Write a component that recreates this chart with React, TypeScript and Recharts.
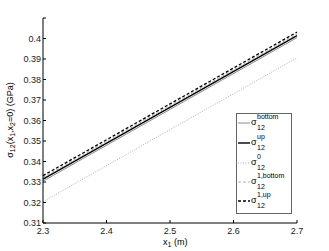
import { LineChart, Line, XAxis, YAxis } from 'recharts';

const xValues = [2.3, 2.7];
const sigmaBottom = [0.3304, 0.4004];
const sigmaUp = [0.3314, 0.4014];
const sigma0 = [0.3204, 0.3906];
const sigma1Bottom = [0.3322, 0.4022];
const sigma1Up = [0.3331, 0.4031];

const xTicks = [2.3, 2.4, 2.5, 2.6, 2.7];
const yTicks = [0.31, 0.32, 0.33, 0.34, 0.35, 0.36, 0.37, 0.38, 0.39, 0.4, 0.41];

const data = xValues.map((x, i) => ({
  x,
  bottom: sigmaBottom[i],
  up: sigmaUp[i],
  zero: sigma0[i],
  oneBottom: sigma1Bottom[i],
  oneUp: sigma1Up[i],
}));

const FONT = '"Liberation Sans", Arial, sans-serif';

const series = [
  { key: 'bottom', sup: 'bottom', stroke: '#8c8c8c', width: 1, dash: undefined },
  { key: 'up', sup: 'up', stroke: '#000', width: 1.4, dash: undefined },
  { key: 'zero', sup: '0', stroke: '#999', width: 0.8, dash: '1 1.5' },
  { key: 'oneBottom', sup: '1,bottom', stroke: '#aaa', width: 1, dash: '3 2' },
  { key: 'oneUp', sup: '1,up', stroke: '#000', width: 1.3, dash: '3 2' },
];

const rowY = [123, 143, 163, 182, 201];

const tickStyle = { fontSize: 9, fill: '#222', fontFamily: FONT };

const App = () => {
  return (
    <div style={{ position: 'absolute', left: 0, top: 0, width: 329, height: 251, background: '#fff' }}>
      <LineChart
        width={329}
        height={251}
        data={data}
        margin={{ top: 18, right: 32, bottom: 0, left: 0 }}
      >
        <XAxis
          xAxisId="b"
          dataKey="x"
          type="number"
          domain={[2.3, 2.7]}
          ticks={xTicks}
          height={28}
          stroke="#000"
          tickSize={-3}
          tickMargin={8}
          tick={tickStyle}
          tickFormatter={(v: number) => v.toFixed(1)}
        />
        <XAxis
          xAxisId="t"
          orientation="top"
          dataKey="x"
          type="number"
          domain={[2.3, 2.7]}
          ticks={xTicks}
          height={0}
          stroke="#000"
          tickSize={-3}
          tick={false}
        />
        <YAxis
          yAxisId="l"
          type="number"
          domain={[0.31, 0.41]}
          ticks={yTicks}
          width={43}
          stroke="#000"
          tickSize={-3}
          tickMargin={5}
          tick={tickStyle}
          tickFormatter={(v: number) => (v > 0.405 ? '' : String(Number(v.toFixed(2))))}
        />
        <YAxis
          yAxisId="r"
          orientation="right"
          type="number"
          domain={[0.31, 0.41]}
          ticks={yTicks}
          width={0}
          stroke="#000"
          tickSize={-3}
          tick={false}
        />
        {series.map((s) => (
          <Line
            key={s.key}
            xAxisId="b"
            yAxisId="l"
            dataKey={s.key}
            stroke={s.stroke}
            strokeWidth={s.width}
            strokeDasharray={s.dash}
            dot={false}
            isAnimationActive={false}
          />
        ))}
      </LineChart>
      <svg
        width={329}
        height={251}
        style={{ position: 'absolute', left: 0, top: 0, pointerEvents: 'none' }}
        fontFamily={FONT}
      >
        {/* axis labels */}
        <text x={163} y={245} fontSize={9} fill="#000">
          x
          <tspan fontSize={7} dy={2}>1</tspan>
          <tspan fontSize={9} dy={-2}> (m)</tspan>
        </text>
        <text transform="translate(13,120) rotate(-90)" textAnchor="middle" fontSize={9} fill="#000">
          σ<tspan fontSize={7} dy={2}>12</tspan>
          <tspan fontSize={9} dy={-2}>(x</tspan>
          <tspan fontSize={7} dy={2}>1</tspan>
          <tspan fontSize={9} dy={-2}>,x</tspan>
          <tspan fontSize={7} dy={2}>2</tspan>
          <tspan fontSize={9} dy={-2}>=0) (GPa)</tspan>
        </text>
        {/* legend */}
        <rect x={236.5} y={113.5} width={55} height={100} fill="#fff" stroke="#666" strokeWidth={1} />
        {series.map((s, i) => (
          <g key={s.key}>
            <line
              x1={238}
              x2={250}
              y1={rowY[i]}
              y2={rowY[i]}
              stroke={s.stroke}
              strokeWidth={s.width}
              strokeDasharray={s.dash}
            />
            <text x={251} y={rowY[i] + 2} fontSize={9} fill="#000">σ</text>
            <text x={257} y={rowY[i] - 4} fontSize={7} fill="#000">{s.sup}</text>
            <text x={257} y={rowY[i] + 7} fontSize={7} fill="#000">12</text>
          </g>
        ))}
      </svg>
    </div>
  );
};

export default App;
